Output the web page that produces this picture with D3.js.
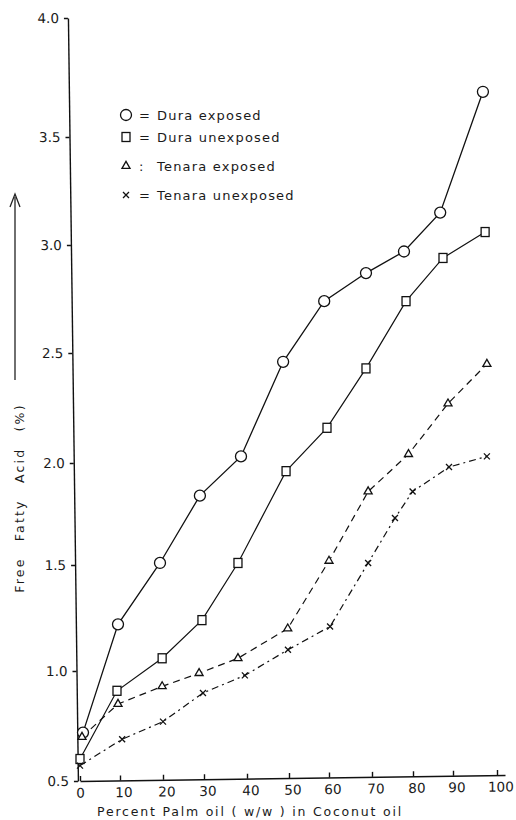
<!DOCTYPE html>
<html>
<head>
<meta charset="utf-8">
<script src="https://cdn.jsdelivr.net/npm/d3@7"></script>
<style>
  body { margin: 0; background: #fff; }
  text { font-family: "DejaVu Sans", sans-serif; fill: #1a1a1a; }
</style>
</head>
<body>
<svg id="chart" width="516" height="820"></svg>
<script>
// tick labels
const xTicks = [0, 10, 20, 30, 40, 50, 60, 70, 80, 90, 100];
const yTicks = [0.5, 1.0, 1.5, 2.0, 2.5, 3.0, 3.5, 4.0];

// Dura exposed (circles)
const duraExpX = [0.75, 9.5, 19.3, 29, 38.6, 48.6, 58.8, 68.6, 77.8, 86.8, 96.8];
const duraExpY = [0.72, 1.22, 1.51, 1.84, 2.03, 2.46, 2.74, 2.87, 2.97, 3.15, 3.69];

// Dura unexposed (squares)
const duraUnexpX = [0, 9.25, 19.8, 29.5, 37.9, 49.3, 59.5, 68.6, 78.3, 87.5, 97.3];
const duraUnexpY = [0.60, 0.91, 1.06, 1.24, 1.51, 1.96, 2.16, 2.43, 2.74, 2.94, 3.06];

// Tenara exposed (triangles)
const tenExpX = [0.5, 9.5, 19.8, 28.8, 37.9, 49.7, 60, 69.1, 78.9, 88.75, 97.7];
const tenExpY = [0.70, 0.85, 0.93, 0.99, 1.06, 1.20, 1.52, 1.86, 2.04, 2.27, 2.45];

// Tenara unexposed (crosses)
const tenUnexpX = [0, 10.5, 20, 29.75, 39.5, 49.75, 60.25, 69.1, 75.6, 79.9, 89, 97.7];
const tenUnexpY = [0.57, 0.69, 0.77, 0.90, 0.98, 1.10, 1.21, 1.51, 1.73, 1.86, 1.98, 2.03];

const legendLabels = ['Dura  exposed', 'Dura  unexposed', 'Tenara  exposed', 'Tenara  unexposed'];
const legendSigns = ['=', '=', ':', '='];

const svg = d3.select('#chart');

// the original axes were drawn by hand, so the scales follow its tick marks
const x = d3.scaleLinear()
    .domain(xTicks.concat([102]))
    .range([80, 120, 163, 204, 247, 289, 329, 372, 413, 453, 497, 505]);

const y = d3.scaleLinear()
    .domain(yTicks)
    .range([781, 671, 565, 463, 353, 245, 137, 18]);

const zip = (xs, ys) => xs.map((v, i) => ({ x: v, y: ys[i] }));

const series = [
    { key: 'de', pts: zip(duraExpX, duraExpY), shape: 'circle', dash: null, w: 1.3 },
    { key: 'du', pts: zip(duraUnexpX, duraUnexpY), shape: 'square', dash: null, w: 1.2 },
    { key: 'te', pts: zip(tenExpX, tenExpY), shape: 'triangle', dash: '7,5', w: 1.2 },
    { key: 'tu', pts: zip(tenUnexpX, tenUnexpY), shape: 'cross', dash: '7,4,2,4', w: 1.2 },
];

// axes
const xAxis = svg.append('g')
    .attr('transform', 'translate(0,782.2) skewY(-0.82)')
    .call(d3.axisBottom(x).tickValues(xTicks).tickSizeInner(-5).tickSizeOuter(0).tickPadding(7));
xAxis.selectAll('text').attr('font-size', 13.5).attr('dx', d => d ? '0.25em' : 0)
    .style('font-family', '"DejaVu Sans", sans-serif').attr('fill', '#1a1a1a');

const yAxis = svg.append('g')
    .attr('transform', 'translate(67.7,0) skewX(0.75)')
    .call(d3.axisLeft(y).tickValues(yTicks).tickFormat(d3.format('.1f')).tickSizeInner(4).tickSizeOuter(0).tickPadding(5));
yAxis.selectAll('text').attr('font-size', 13.5)
    .style('font-family', '"DejaVu Sans", sans-serif').attr('fill', '#1a1a1a');

svg.selectAll('.domain, .tick line').attr('stroke', '#111').attr('stroke-width', 1.4);

// lines
const line = d3.line().x(d => x(d.x)).y(d => y(d.y));

svg.selectAll('path.series')
    .data(series)
    .enter()
    .append('path')
    .classed('series', true)
    .attr('d', d => line(d.pts))
    .attr('fill', 'none')
    .attr('stroke', '#111')
    .attr('stroke-width', d => d.w)
    .attr('stroke-dasharray', d => d.dash);

// markers
function marker(sel, shape) {
    if (shape === 'circle') {
        sel.append('circle').attr('r', 5.5);
    } else if (shape === 'square') {
        sel.append('rect').attr('x', -4).attr('y', -4.5).attr('width', 8).attr('height', 9);
    } else if (shape === 'triangle') {
        sel.append('path').attr('d', d3.symbol(d3.symbolTriangle, 28)());
    } else {
        sel.append('path').attr('d', 'M-3,-3L3,3M3,-3L-3,3');
    }
    sel.selectAll('*')
        .attr('fill', shape === 'cross' ? 'none' : '#fff')
        .attr('stroke', '#111')
        .attr('stroke-width', 1.3);
}

series.forEach(s => {
    svg.selectAll('g.m-' + s.key)
        .data(s.pts)
        .enter()
        .append('g')
        .attr('class', 'm-' + s.key)
        .attr('transform', d => `translate(${x(d.x)},${y(d.y)})`)
        .each(function () { marker(d3.select(this), s.shape); });
});

// legend
const legendRows = [115, 137, 166, 195];
const lg = svg.selectAll('g.legend')
    .data(series)
    .enter()
    .append('g')
    .classed('legend', true)
    .attr('transform', (d, i) => `translate(126,${legendRows[i]})`);

lg.each(function (d) { marker(d3.select(this), d.shape); });
lg.append('text')
    .attr('x', 13)
    .attr('dy', '0.35em')
    .attr('font-size', 13)
    .text((d, i) => legendSigns[i]);
lg.append('text')
    .attr('x', 31)
    .attr('dy', '0.35em')
    .attr('font-size', 13)
    .attr('letter-spacing', 1.2)
    .text((d, i) => legendLabels[i]);

// y title with arrow
svg.append('text')
    .attr('transform', 'translate(24,498) rotate(-90)')
    .attr('text-anchor', 'middle')
    .attr('font-size', 12.5)
    .attr('letter-spacing', 2.2)
    .attr('word-spacing', 10)
    .text('Free  Fatty  Acid  (%)');

svg.append('line')
    .attr('x1', 15).attr('y1', 380).attr('x2', 15).attr('y2', 197)
    .attr('stroke', '#222').attr('stroke-width', 1.3);
svg.append('path')
    .attr('d', 'M10,207L15,194L20,207')
    .attr('fill', 'none').attr('stroke', '#222').attr('stroke-width', 1.3);

// x title
svg.append('text')
    .attr('x', 97)
    .attr('y', 816)
    .attr('font-size', 12.5)
    .attr('letter-spacing', 1.8)
    .text('Percent  Palm oil ( w/w )  in  Coconut oil');
</script>
</body>
</html>
